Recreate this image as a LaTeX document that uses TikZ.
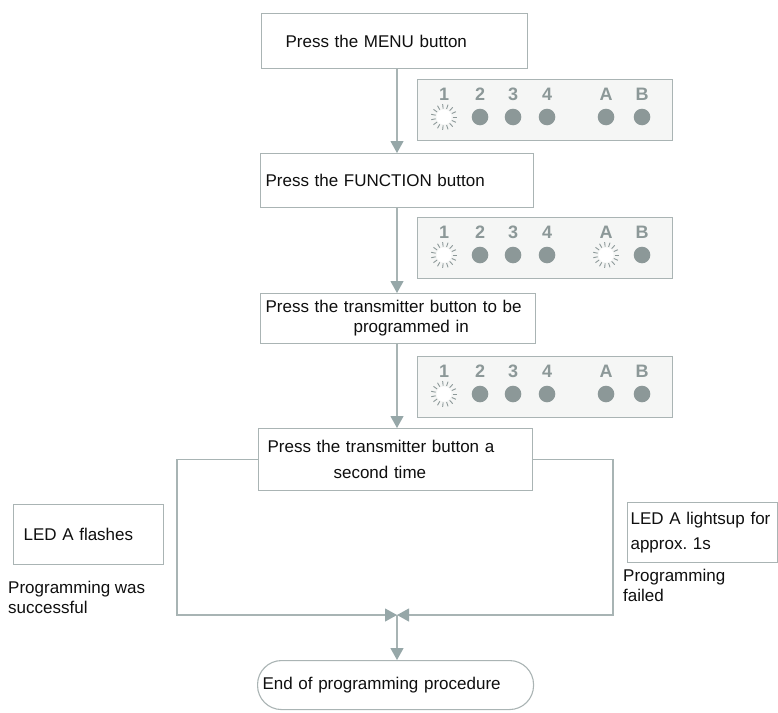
\documentclass[tikz,border=0pt]{standalone}
\usepackage{fontspec}
\setmainfont{Liberation Sans}
\usetikzlibrary{arrows.meta,calc}
\frenchspacing

\definecolor{linegray}{RGB}{168,180,180}
\definecolor{boxgray}{RGB}{170,180,180}
\definecolor{tipgray}{RGB}{150,167,168}
\definecolor{ledgray}{RGB}{140,152,152}
\definecolor{panelfill}{RGB}{245,246,245}
\definecolor{ink}{RGB}{15,15,15}

\tikzset{
  x=1pt, y=-1pt,
  every node/.style={font=\fontsize{17}{20}\selectfont, text=ink},
  stepbox/.style={draw=boxgray, line width=1.1pt, fill=white, anchor=north west,
    align=left, inner ysep=0pt},
  endbox/.style={stepbox, rounded corners=24pt},
  note/.style={anchor=north west, align=left, inner sep=0pt},
  panel/.style={draw=boxgray, line width=1.1pt, fill=panelfill, anchor=north west,
    minimum width=255pt, minimum height=61pt, inner sep=0pt},
  ledlabel/.style={font=\fontsize{18}{18}\selectfont\bfseries, text=ledgray, inner sep=0pt},
  flow/.style={draw=linegray, line width=1.1pt,
    -{Triangle[length=12pt,width=13pt,color=tipgray]}},
  ledflash/.pic={
    \fill[white] (0,0) circle[radius=7.5pt];
    \foreach \a in {0,24,...,336}
      \draw[ledgray, line width=0.9pt] (\a:8.5pt) -- (\a:13pt);
  },
  ledoff/.pic={\fill[ledgray] (0,0) circle[radius=8.3pt];}
}

% One LED indicator strip: #1 name, #2 top-left corner, #3 state of LED A (1 = flashing)
\newcommand{\LedPanel}[3]{%
  \node[panel] (#1) at #2 {};
  \foreach \lab/\dx/\lit in {1/27/1,2/63/0,3/96/0,4/130/0,A/189/#3,B/225/0} {
    \node[ledlabel] (#1-\lab) at ($(#1.north west)+(\dx,15)$) {\lab};
    \ifnum\lit=1 \pic at ($(#1.north west)+(\dx,38)$) {ledflash};
    \else \pic at ($(#1.north west)+(\dx,38)$) {ledoff}; \fi
  }
}

\begin{document}
\begin{tikzpicture}
  \fill[white] (0,0) rectangle (778,712);
  \useasboundingbox (0,0) rectangle (778,712);

  \coordinate (spine) at (397,0);

  % program steps
  \node[stepbox, minimum width=266pt, minimum height=55pt, inner xsep=24pt, text width=218pt]
    (menu) at (261,13) {Press the MENU button};
  \node[stepbox, minimum width=273pt, minimum height=54pt, inner xsep=5pt, text width=263pt]
    (func) at (260,153) {Press the FUNCTION button};
  \node[stepbox, minimum width=275pt, minimum height=50pt, inner xsep=5pt, text width=265pt]
    (trans) at (260,293) {Press the transmitter button to be\\\hspace*{88pt}programmed in};
  \node[stepbox, minimum width=274pt, minimum height=62pt, inner xsep=9pt, text width=256pt]
    (second) at (258,428) {Press the transmitter button a\\[6pt]\hspace*{66pt}second time};
  \node[endbox, minimum width=276pt, minimum height=49pt, inner xsep=5pt, text width=266pt]
    (done) at (257,660) {End of programming procedure};

  % LED indicator strips
  \LedPanel{pa}{(417,79)}{0}
  \LedPanel{pb}{(417,217)}{1}
  \LedPanel{pc}{(417,356)}{0}

  % outcomes
  \node[stepbox, minimum width=150pt, minimum height=60pt, inner xsep=10pt, text width=130pt]
    (flash) at (13,504) {LED A flashes};
  \node[note] (ok) at (8,581) {Programming was\\successful};
  \node[stepbox, minimum width=150pt, minimum height=60pt, inner xsep=3pt, text width=144pt,
    font=\fontsize{17}{25}\selectfont]
    (lit) at (627,502) {LED A lightsup for\\approx. 1s};
  \node[note] (fail) at (623,569) {Programming\\failed};

  % connectors
  \coordinate (lcorner) at (177,615);
  \coordinate (rcorner) at (613,615);
  \coordinate (join) at (397,615);

  \draw[flow] (menu.south -| spine) -- (func.north -| spine);
  \draw[flow] (func.south -| spine) -- (trans.north -| spine);
  \draw[flow] (trans.south -| spine) -- (second.north -| spine);
  \draw[flow] (second.west) -| (lcorner) -- (join);
  \draw[flow] (second.east) -| (rcorner) -- (join);
  \draw[flow] (join) -- (done.north -| spine);
\end{tikzpicture}
\end{document}
